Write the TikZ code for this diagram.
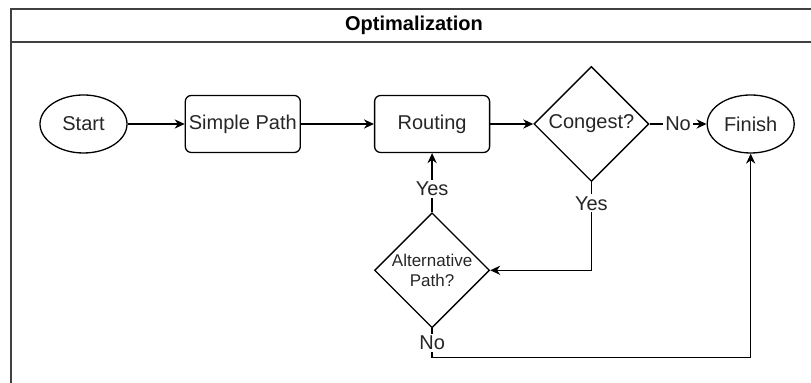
\documentclass[tikz,border=0pt]{standalone}
\usepackage{fontspec}
\setmainfont{Liberation Sans}
\usepackage{tikz}
\usetikzlibrary{arrows.meta,positioning,shapes.geometric}

\begin{document}
\begin{tikzpicture}[x=0.5pt,y=-0.5pt,>={Stealth[length=5pt,width=4.6pt]},line width=0.65pt,
  term/.style={draw,ellipse,minimum width=43.5pt,minimum height=29pt,inner sep=1pt,font=\fontsize{10}{12}\selectfont,text=black!85},
  proc/.style={draw,rounded corners=3pt,minimum width=57.5pt,minimum height=28.5pt,inner sep=1pt,font=\fontsize{10}{12}\selectfont,text=black!85},
  dec/.style={draw,diamond,aspect=1,minimum size=57.5pt,inner sep=0pt,align=center,font=\fontsize{10}{12}\selectfont,text=black!85},
  lbl/.style={fill=white,inner sep=1pt,font=\fontsize{10}{12}\selectfont,text=black!85}]
\useasboundingbox (0,0) rectangle (811,383);
\clip (0,0) rectangle (811,383);
\draw[line width=1pt,black!75] (11,9) rectangle (840,410);
\draw[line width=1pt,black!75] (11,42) -- (840,42);
\node[font=\bfseries\fontsize{10}{12}\selectfont] (title) at (414,25.5) {Optimalization};
\node[term] (start) at (83.5,124) {Start};
\node[proc,right=28.5pt of start] (simple) {Simple Path};
\node[proc,right=36.5pt of simple] (routing) {Routing};
\node[dec,right=21.5pt of routing] (congest) {Congest?};
\node[term,right=28.5pt of congest] (finish) {Finish};
\node[dec,below=29.5pt of routing,font=\fontsize{8.5}{10}\selectfont] (alt) {Alternative\\Path?};
\draw[->](start)--(simple);\draw[->](simple)--(routing);\draw[->](routing)--(congest);
\draw[->](congest)--node[lbl]{No}(finish);
\draw[->](congest.south)|-node[lbl,pos=0.12]{Yes}(alt.east);
\draw[->](alt.north)--node[lbl,pos=0.4]{Yes}(routing.south);
\draw[->](alt.south)--++(0,-14.5pt)node[lbl,midway]{No}-|(finish.south);
\end{tikzpicture}
\end{document}
